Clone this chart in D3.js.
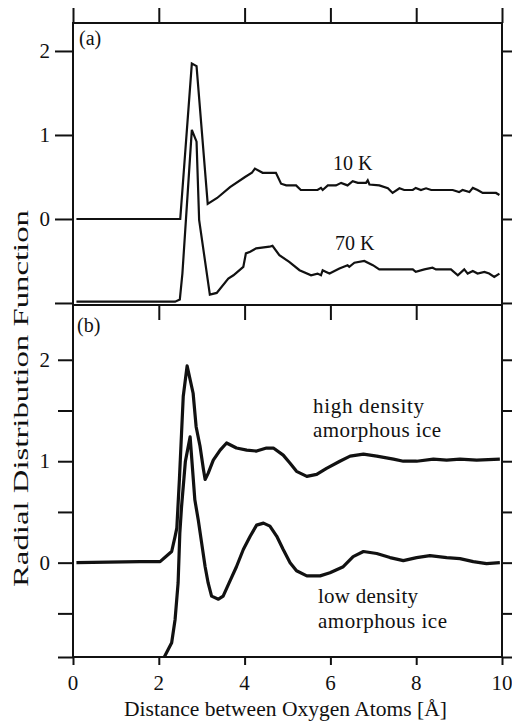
<!DOCTYPE html>
<html>
<head>
<meta charset="utf-8">
<script src="https://cdn.jsdelivr.net/npm/d3@7"></script>
<style>
  html, body { margin: 0; padding: 0; background: #fff; }
  svg { display: block; }
  text { font-family: "Liberation Serif", "DejaVu Serif", serif; fill: #111; }
</style>
</head>
<body>
<svg id="chart" width="512" height="726" font-family="Liberation Serif, DejaVu Serif, serif"></svg>
<script>
// ---------- DATA ----------
// Panel (a): 10 K curve
const r10 = [0.08, 2.50, 2.77, 2.88, 3.14, 3.36, 3.66, 4.01, 4.17, 4.24,
             4.42, 4.73, 4.85, 4.97, 5.20, 5.31, 5.70, 5.78, 5.82, 5.94,
             6.13, 6.25, 6.40, 6.52, 6.64, 6.83, 6.87, 6.91, 7.14, 7.34,
             7.45, 7.61, 7.72, 7.92, 7.99, 8.11, 8.23, 8.35, 8.85, 9.00,
             9.08, 9.24, 9.32, 9.43, 9.55, 9.86, 9.94];
const g10 = [0, 0, 1.85, 1.82, 0.18, 0.25, 0.38, 0.50, 0.55, 0.60,
             0.55, 0.55, 0.42, 0.40, 0.40, 0.345, 0.345, 0.37, 0.345, 0.40,
             0.40, 0.43, 0.40, 0.45, 0.43, 0.43, 0.46, 0.41, 0.40, 0.365,
             0.31, 0.365, 0.345, 0.345, 0.37, 0.345, 0.365, 0.345, 0.345, 0.32,
             0.345, 0.32, 0.37, 0.345, 0.31, 0.31, 0.285];
// Panel (a): 70 K curve (as drawn, shifted down)
const r70 = [0.08, 2.38, 2.49, 2.55, 2.77, 2.88, 2.94, 3.19, 3.35, 3.62,
             3.74, 3.97, 4.03, 4.13, 4.27, 4.58, 4.65, 4.81, 5.04, 5.28,
             5.55, 5.70, 5.78, 5.82, 5.90, 5.98, 6.21, 6.40, 6.44, 6.56,
             6.79, 6.99, 7.14, 7.92, 7.99, 8.19, 8.38, 8.46, 8.81, 8.97,
             9.12, 9.20, 9.32, 9.43, 9.59, 9.70, 9.82, 9.94];
const g70 = [-0.985, -0.985, -0.96, -0.65, 1.06, 0.92, -0.01, -0.90, -0.88, -0.71,
             -0.67, -0.57, -0.41, -0.39, -0.35, -0.33, -0.32, -0.43, -0.51, -0.61,
             -0.67, -0.65, -0.67, -0.61, -0.63, -0.65, -0.59, -0.55, -0.57, -0.52,
             -0.50, -0.55, -0.60, -0.60, -0.63, -0.60, -0.58, -0.60, -0.60, -0.67,
             -0.60, -0.65, -0.62, -0.65, -0.63, -0.65, -0.69, -0.65];
// Panel (b): high density amorphous ice
const rHDA = [0.08, 1.56, 2.03, 2.14, 2.30, 2.38, 2.42, 2.48, 2.57, 2.66,
              2.80, 2.87, 2.96, 3.04, 3.08, 3.15, 3.27, 3.43, 3.58, 3.81,
              4.05, 4.28, 4.51, 4.67, 4.90, 5.06, 5.21, 5.45, 5.68, 5.91,
              6.22, 6.46, 6.77, 7.08, 7.47, 7.70, 8.01, 8.40, 8.71, 9.02,
              9.41, 9.95];
const gHDA = [0, 0.01, 0.01, 0.05, 0.11, 0.26, 0.34, 0.82, 1.64, 1.94,
              1.67, 1.34, 1.15, 0.92, 0.82, 0.88, 1.01, 1.11, 1.18, 1.13,
              1.11, 1.10, 1.13, 1.13, 1.06, 0.98, 0.90, 0.85, 0.87, 0.93,
              1.00, 1.05, 1.07, 1.05, 1.02, 1.00, 1.00, 1.02, 1.01, 1.02,
              1.01, 1.02];
// Panel (b): low density amorphous ice (as drawn, shifted down)
const rLDA = [0.08, 2.05, 2.14, 2.30, 2.38, 2.45, 2.49, 2.53, 2.62, 2.73,
              2.84, 2.92, 3.00, 3.08, 3.15, 3.23, 3.39, 3.50, 3.66, 3.81,
              3.97, 4.13, 4.28, 4.44, 4.59, 4.75, 4.90, 5.06, 5.21, 5.45,
              5.76, 5.99, 6.30, 6.53, 6.77, 7.08, 7.39, 7.70, 8.01, 8.32,
              8.71, 9.02, 9.33, 9.64, 9.95];
const gLDA = [-1, -1, -0.92, -0.79, -0.56, -0.20, 0.29, 0.55, 1.00, 1.24,
              0.62, 0.42, 0.19, -0.04, -0.20, -0.33, -0.36, -0.33, -0.18, -0.04,
              0.13, 0.26, 0.37, 0.39, 0.36, 0.26, 0.13, 0.00, -0.08, -0.13,
              -0.13, -0.10, -0.04, 0.06, 0.11, 0.09, 0.05, 0.02, 0.05, 0.07,
              0.05, 0.04, 0.01, -0.01, 0.00];

const xTicks = [0, 2, 4, 6, 8, 10];
const yTicksA = [-1, 0, 1, 2];
const yLabelsA = [0, 1, 2];
const yTicksB = [-0.5, 0, 0.5, 1, 1.5, 2];
const yLabelsB = [0, 1, 2];

const panelLabels = ["(a)", "(b)"];
const curveLabelsA = ["10 K", "70 K"];
const curveLabelsB = [["high density", "amorphous ice"], ["low density", "amorphous ice"]];
const xTitle = "Distance between Oxygen Atoms [Å]";
const yTitle = "Radial Distribution Function";

// ---------- LAYOUT ----------
const svg = d3.select("#chart");
const FONT = "Liberation Serif, DejaVu Serif, serif";
const L = 73, R = 502;
const aTop = 23, aBot = 305, bTop = 305, bBot = 657;

const x = d3.scaleLinear().domain([0, 10]).range([L, R]);
const yA = d3.scaleLinear().domain([-1.024, 2.333]).range([aBot, aTop]);
const yB = d3.scaleLinear().domain([-0.93, 2.54]).range([bBot, bTop]);

const defs = svg.append("defs");
defs.append("clipPath").attr("id", "clipA").append("rect")
  .attr("x", L).attr("y", aTop).attr("width", R - L).attr("height", aBot - aTop);
defs.append("clipPath").attr("id", "clipB").append("rect")
  .attr("x", L).attr("y", bTop).attr("width", R - L).attr("height", bBot - bTop);

const ink = "#111";

// ---------- AXES ----------
function styleAxis(g) {
  g.select(".domain").remove();
  g.selectAll(".tick line").attr("stroke", ink).attr("stroke-width", 2);
  g.selectAll(".tick text").remove();
}

svg.append("g").attr("transform", `translate(0,${aTop})`)
  .call(d3.axisTop(x).tickValues(xTicks).tickSize(15)).call(styleAxis);
svg.append("g").attr("transform", `translate(${L},0)`)
  .call(d3.axisLeft(yA).tickValues(yTicksA).tickSize(18)).call(styleAxis);
svg.append("g").attr("transform", `translate(${R},0)`)
  .call(d3.axisRight(yA).tickValues(yTicksA).tickSize(10)).call(styleAxis);

svg.append("g").attr("transform", `translate(0,${bTop})`)
  .call(d3.axisBottom(x).tickValues(xTicks.slice(1, 5)).tickSize(15)).call(styleAxis);
svg.append("g").attr("transform", `translate(0,${bBot})`)
  .call(d3.axisBottom(x).tickValues(xTicks).tickSize(8)).call(styleAxis);
svg.append("g").attr("transform", `translate(${L},0)`)
  .call(d3.axisLeft(yB).tickValues(yTicksB.concat([-0.93])).tickSize(15)).call(styleAxis);
svg.append("g").attr("transform", `translate(${R},0)`)
  .call(d3.axisRight(yB).tickValues(yTicksB.concat([-0.93])).tickSize(10)).call(styleAxis);

svg.append("rect").attr("x", L).attr("y", aTop).attr("width", R - L).attr("height", aBot - aTop)
  .attr("fill", "none").attr("stroke", ink).attr("stroke-width", 2);
svg.append("rect").attr("x", L).attr("y", bTop).attr("width", R - L).attr("height", bBot - bTop)
  .attr("fill", "none").attr("stroke", ink).attr("stroke-width", 2);

function txt(sel) { return sel.attr("font-family", FONT).attr("fill", ink); }

svg.append("g").selectAll("text").data(yLabelsA).join("text").call(txt)
  .attr("x", 50).attr("y", d => yA(d) + 7).attr("text-anchor", "end")
  .attr("font-size", 21).text(d => d);
svg.append("g").selectAll("text").data(yLabelsB).join("text").call(txt)
  .attr("x", 50).attr("y", d => yB(d) + 7).attr("text-anchor", "end")
  .attr("font-size", 21).text(d => d);
svg.append("g").selectAll("text").data(xTicks).join("text").call(txt)
  .attr("x", d => x(d)).attr("y", 690).attr("text-anchor", "middle")
  .attr("font-size", 21).text(d => d);

svg.append("text").call(txt).attr("x", 124).attr("y", 716).attr("font-size", 21)
  .attr("textLength", 323).attr("lengthAdjust", "spacingAndGlyphs").text(xTitle);
svg.append("text").call(txt).attr("transform", "translate(28,587) rotate(-90)")
  .attr("font-size", 22).attr("textLength", 377).attr("lengthAdjust", "spacingAndGlyphs")
  .text(yTitle);

// ---------- CURVES ----------
const lineA = d3.line().x(d => x(d[0])).y(d => yA(d[1]));
const lineB = d3.line().x(d => x(d[0])).y(d => yB(d[1]));

const gA = svg.append("g").attr("clip-path", "url(#clipA)");
gA.append("path").datum(d3.zip(r10, g10)).attr("d", lineA)
  .attr("fill", "none").attr("stroke", ink).attr("stroke-width", 2.2);
gA.append("path").datum(d3.zip(r70, g70)).attr("d", lineA)
  .attr("fill", "none").attr("stroke", ink).attr("stroke-width", 2.2);

const gB = svg.append("g").attr("clip-path", "url(#clipB)");
gB.append("path").datum(d3.zip(rHDA, gHDA)).attr("d", lineB)
  .attr("fill", "none").attr("stroke", ink).attr("stroke-width", 3.2).attr("stroke-linejoin", "round");
gB.append("path").datum(d3.zip(rLDA, gLDA)).attr("d", lineB)
  .attr("fill", "none").attr("stroke", ink).attr("stroke-width", 3.2).attr("stroke-linejoin", "round");

// ---------- LABELS ----------
svg.append("text").call(txt).attr("x", 79).attr("y", 45).attr("font-size", 20).text(panelLabels[0]);
svg.append("text").call(txt).attr("x", 77).attr("y", 332).attr("font-size", 20).text(panelLabels[1]);

svg.append("text").call(txt).attr("x", 333).attr("y", 170).attr("font-size", 20).text(curveLabelsA[0]);
svg.append("text").call(txt).attr("x", 335).attr("y", 250).attr("font-size", 20).text(curveLabelsA[1]);

svg.append("text").call(txt).attr("x", 313).attr("y", 413).attr("font-size", 21)
  .attr("textLength", 111).attr("lengthAdjust", "spacing").text(curveLabelsB[0][0]);
svg.append("text").call(txt).attr("x", 313).attr("y", 437).attr("font-size", 21)
  .attr("textLength", 128).attr("lengthAdjust", "spacing").text(curveLabelsB[0][1]);
svg.append("text").call(txt).attr("x", 318).attr("y", 603).attr("font-size", 21)
  .attr("textLength", 100).attr("lengthAdjust", "spacing").text(curveLabelsB[1][0]);
svg.append("text").call(txt).attr("x", 318).attr("y", 628).attr("font-size", 21)
  .attr("textLength", 129).attr("lengthAdjust", "spacing").text(curveLabelsB[1][1]);
</script>
</body>
</html>
